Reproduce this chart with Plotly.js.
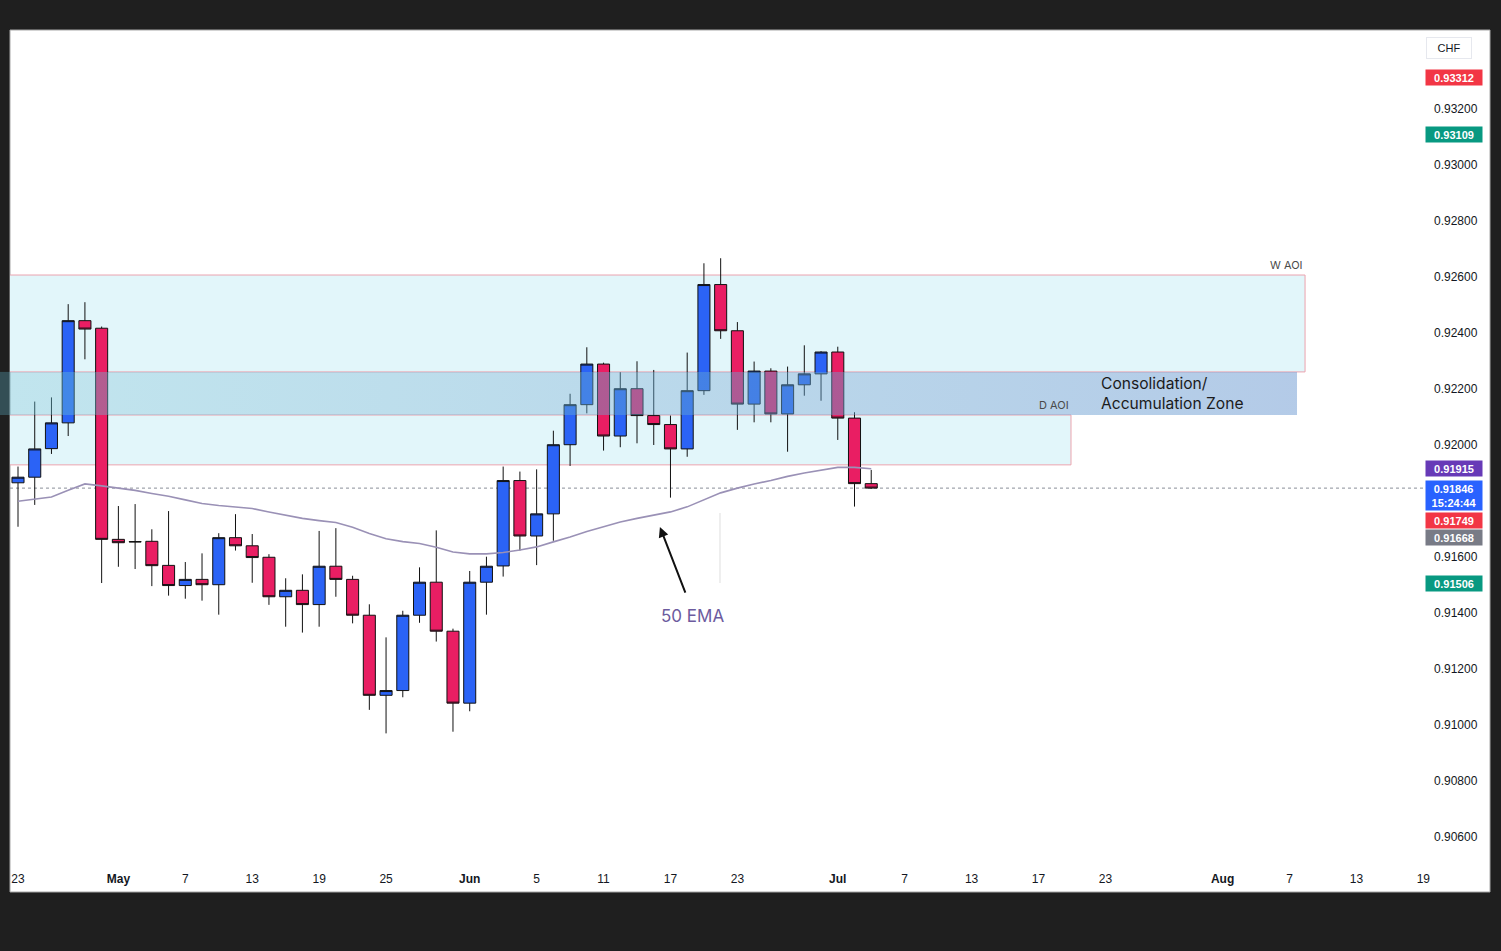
<!DOCTYPE html>
<html>
<head>
<meta charset="utf-8">
<script src="https://cdn.plot.ly/plotly-3.0.1.min.js"></script>
<style>html,body{margin:0;padding:0;background:#1f1f1f;}#chart{width:1501px;height:951px;}</style>
</head>
<body>
<div id="chart"></div>
<script>
// ---- Daily candles (CHF) ----
const open  = [0.91865,0.91885,0.91987,0.92079,0.92444,0.92417,0.91663,0.91655,0.91656,0.91570,
               0.91498,0.91520,0.91501,0.91669,0.91640,0.91599,0.91458,0.91481,0.91430,0.91567,
               0.91520,0.91392,0.91106,0.91123,0.91392,0.91510,0.91335,0.91078,0.91510,0.91568,
               0.91873,0.91675,0.91754,0.92001,0.92144,0.92289,0.92032,0.92201,0.92105,0.92073,
               0.91986,0.92194,0.92573,0.92408,0.92146,0.92264,0.92111,0.92215,0.92254,0.92332,
               0.92096,0.91862];
const high  = [0.91923,0.92155,0.92170,0.92503,0.92510,0.92423,0.91782,0.91789,0.91699,0.91764,
               0.91582,0.91613,0.91685,0.91753,0.91682,0.91610,0.91524,0.91538,0.91693,0.91703,
               0.91533,0.91431,0.91313,0.91408,0.91563,0.91695,0.91344,0.91550,0.91601,0.91923,
               0.91905,0.91913,0.92051,0.92183,0.92349,0.92294,0.92260,0.92299,0.92268,0.92105,
               0.92330,0.92649,0.92667,0.92439,0.92298,0.92274,0.92280,0.92356,0.92335,0.92351,
               0.92117,0.91911];
const low   = [0.91708,0.91786,0.91968,0.92032,0.92306,0.91507,0.91565,0.91557,0.91496,0.91462,
               0.91451,0.91444,0.91394,0.91623,0.91508,0.91429,0.91351,0.91330,0.91351,0.91458,
               0.91363,0.91054,0.90970,0.91099,0.91365,0.91298,0.90976,0.91049,0.91394,0.91530,
               0.91623,0.91571,0.91658,0.91925,0.92113,0.91980,0.91992,0.92006,0.92000,0.91812,
               0.91958,0.92179,0.92379,0.92054,0.92081,0.92081,0.91976,0.92176,0.92158,0.92018,
               0.91780,0.91843];
const close = [0.91885,0.91986,0.92079,0.92444,0.92414,0.91663,0.91651,0.91654,0.91569,0.91498,
               0.91520,0.91501,0.91669,0.91640,0.91598,0.91458,0.91481,0.91430,0.91567,0.91520,
               0.91392,0.91106,0.91123,0.91392,0.91510,0.91335,0.91078,0.91510,0.91567,0.91873,
               0.91675,0.91754,0.92001,0.92144,0.92289,0.92032,0.92201,0.92105,0.92073,0.91986,
               0.92194,0.92573,0.92408,0.92146,0.92264,0.92111,0.92215,0.92254,0.92332,0.92096,
               0.91862,0.91846];
// 50 EMA
const ema50 = [0.91799,0.91806,0.91814,0.91838,0.91861,0.91854,0.91846,0.91838,0.91827,0.91817,
               0.91804,0.91791,0.91784,0.91779,0.91773,0.91761,0.91749,0.91738,0.91730,0.91723,
               0.91706,0.91684,0.91665,0.91655,0.91648,0.91635,0.91618,0.91611,0.91611,0.91616,
               0.91625,0.91636,0.91654,0.91671,0.91691,0.91709,0.91725,0.91738,0.91750,0.91761,
               0.91779,0.91805,0.91829,0.91846,0.91861,0.91873,0.91888,0.91900,0.91911,0.91920,
               0.91920,0.91915];

// time-axis labels (bar positions) and price-axis ticks
const dateTickBars  = [0,6,10,14,18,22,27,31,35,39,43,49,53,57,61,65,72,76,80,84];
const dateTickText  = ['23','<b>May</b>','7','13','19','25','<b>Jun</b>','5','11','17','23',
                       '<b>Jul</b>','7','13','17','23','<b>Aug</b>','7','13','19'];
const priceTicks    = [0.906,0.908,0.910,0.912,0.914,0.916,0.920,0.922,0.924,0.926,0.928,0.930,0.932];

// zones
const wAoi   = [0.92261, 0.92607];
const dAoi   = [0.91929, 0.92107];
const consol = [0.92107, 0.92261];
const consolBars = [-0.6, 76.45];
const lastPrice = 0.91846;

// price-scale tags
const tagValues = [0.93312, 0.93109, 0.91915, 0.91846, 0.91749, 0.91668, 0.91506];
const tagText   = ['0.93312','0.93109','0.91915','0.91846<br>15:24:44','0.91749','0.91668','0.91506'];
const tagColors = ['#f23645','#089981','#673ab7','#2962ff','#f23645','#787b86','#089981'];

const bars = open.map((_, i) => i);

const candles = {
  type: 'candlestick', x: bars, open: open, high: high, low: low, close: close,
  increasing: {line: {color: '#111111', width: 1}, fillcolor: '#2b63f6'},
  decreasing: {line: {color: '#111111', width: 1}, fillcolor: '#e91e63'},
  whiskerwidth: 0, showlegend: false, hoverinfo: 'skip'
};
const emaTrace = {
  type: 'scatter', mode: 'lines', x: bars, y: ema50,
  line: {color: '#9a91b6', width: 1.6}, showlegend: false, hoverinfo: 'skip'
};
// translucent consolidation band drawn over the candles, teal -> blue
const band = {
  type: 'scatter', mode: 'lines',
  x: [consolBars[0], consolBars[1], consolBars[1], consolBars[0], consolBars[0]],
  y: [consol[0], consol[0], consol[1], consol[1], consol[0]],
  fill: 'toself', line: {width: 0}, fillcolor: 'rgba(112,175,214,0.42)',
  fillgradient: {type: 'horizontal',
    colorscale: [[0, 'rgba(100,190,212,0.40)'], [1, 'rgba(98,146,206,0.48)']]},
  showlegend: false, hoverinfo: 'skip'
};

const shapes = [
  // white chart panel over dark frame
  {type:'rect', xref:'paper', yref:'paper', x0:0, x1:1.04594, y0:-0.0311, y1:1.0,
   fillcolor:'#ffffff', line:{color:'#a8a8a8', width:1}, layer:'below'},
  // W AOI
  {type:'rect', xref:'x', yref:'y', x0:-5, x1:76.93, y0:wAoi[0], y1:wAoi[1],
   fillcolor:'#e2f6fa', line:{color:'#eba3ae', width:1}, layer:'below'},
  // D AOI
  {type:'rect', xref:'x', yref:'y', x0:-5, x1:62.94, y0:dAoi[0], y1:dAoi[1],
   fillcolor:'#e2f6fa', line:{color:'#eba3ae', width:1}, layer:'below'},
  // last price dotted line
  {type:'line', xref:'paper', yref:'y', x0:0, x1:1, y0:lastPrice, y1:lastPrice,
   line:{color:'#8a8e99', width:1, dash:'dot'}, layer:'below'},
  // faint vertical line
  {type:'line', xref:'x', yref:'y', x0:41.96, x1:41.96, y0:0.91507, y1:0.91757,
   line:{color:'#dedede', width:1}, layer:'below'},
  // band's spill onto the dark frame at the left
  {type:'rect', xref:'paper', yref:'y', x0:-0.0071, x1:0, y0:consol[0], y1:consol[1],
   fillcolor:'rgba(100,190,212,0.30)', line:{width:0}, layer:'above'}
];

const annotations = [
  {xref:'x', yref:'y', x:76.93, y:wAoi[1], xanchor:'right', yanchor:'bottom', yshift:1,
   text:'W AOI', showarrow:false, font:{family:'Inter, Noto Sans, sans-serif', size:11, color:'#4a4a4a'}},
  {xref:'x', yref:'y', x:62.94, y:0.92143, xanchor:'right', yanchor:'middle',
   text:'D AOI', showarrow:false, font:{family:'Inter, Noto Sans, sans-serif', size:11, color:'#4a4a4a'}},
  {xref:'x', yref:'y', x:64.62, y:0.92184, xanchor:'left', yanchor:'middle', align:'left',
   text:'Consolidation/<br>Accumulation Zone', showarrow:false,
   font:{family:'Inter, Noto Sans, sans-serif', size:15.6, color:'#1b1b1b'}},
  {xref:'x', yref:'y', x:40.29, y:0.91389, xanchor:'center', yanchor:'middle',
   text:'50 EMA', showarrow:false, font:{family:'Inter, Noto Sans, sans-serif', size:17, color:'#6c5b9e'}},
  {xref:'x', yref:'y', x:38.37, y:0.91707, text:'', showarrow:true, ax:26, ay:67,
   arrowhead:2, arrowsize:1, arrowwidth:2, arrowcolor:'#111111'},
  {xref:'paper', yref:'paper', x:1.0173, y:0.9785, xanchor:'center', yanchor:'middle',
   text:'CHF', showarrow:false, bgcolor:'#ffffff', bordercolor:'#e6e8ee', borderwidth:1, borderpad:4,
   width:36, font:{family:'Liberation Sans, Arial, sans-serif', size:11, color:'#131722'}}
];
tagValues.forEach((v, i) => {
  const a = {xref:'paper', yref:'y', x:1.0205, y:v, xanchor:'center', yanchor:'middle',
    text:'<b>' + tagText[i] + '</b>', showarrow:false, bgcolor:tagColors[i], borderpad:1.5,
    width:53, font:{family:'Liberation Sans, Arial, sans-serif', size:11, color:'#ffffff'}};
  if (i === 3) { a.yanchor = 'top'; a.yshift = 8; }
  if (i === 4) { a.yshift = -5; }
  annotations.push(a);
});

const layout = {
  width: 1501, height: 951,
  margin: {l: 10, r: 76, t: 30, b: 85},
  paper_bgcolor: '#1f1f1f', plot_bgcolor: '#ffffff',
  showlegend: false, boxgap: 0.28, boxgroupgap: 0,
  xaxis: {
    range: [-0.478, 84.1], rangeslider: {visible: false},
    tickmode: 'array', tickvals: dateTickBars, ticktext: dateTickText,
    showgrid: false, zeroline: false, showline: false, ticks: '',
    ticklabelstandoff: 4,
    tickfont: {family: 'Liberation Sans, Arial, sans-serif', size: 12, color: '#131722'},
    fixedrange: true
  },
  yaxis: {
    range: [0.904964, 0.934821], side: 'right',
    tickmode: 'array', tickvals: priceTicks, tickformat: '.5f',
    showgrid: false, zeroline: false, showline: false, ticks: '',
    ticklabelstandoff: 8,
    tickfont: {family: 'Liberation Sans, Arial, sans-serif', size: 12, color: '#131722'},
    fixedrange: true
  },
  shapes: shapes,
  annotations: annotations
};

Plotly.newPlot('chart', [emaTrace, candles, band], layout, {displayModeBar: false, staticPlot: true});
</script>
</body>
</html>
